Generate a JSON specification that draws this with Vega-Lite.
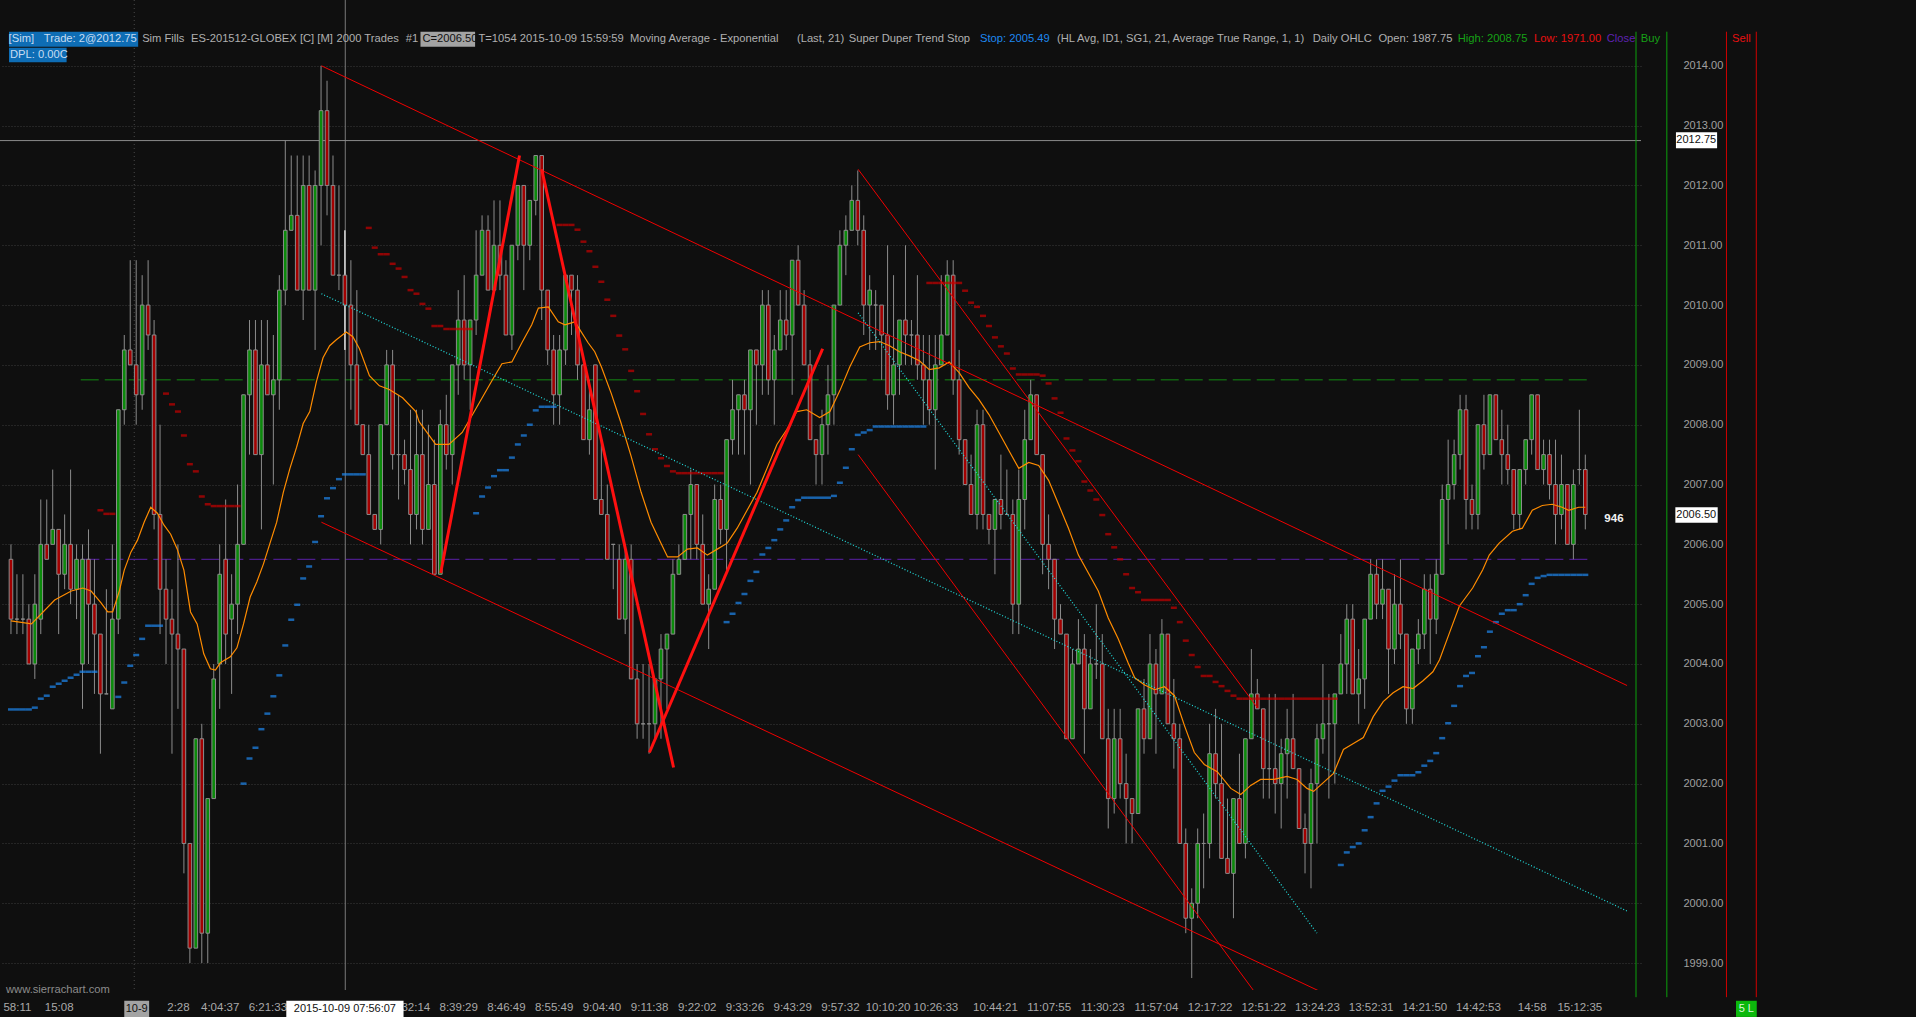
{
  "$schema": "https://vega.github.io/schema/vega-lite/v6.json",
  "width": 1641,
  "height": 990,
  "autosize": {"type": "none"},
  "padding": {"left": 0, "top": 0, "right": 275, "bottom": 27},
  "background": "#0f0f0f",
  "datasets": {
    "bars": [
      {"i":0,"o":2005.75,"h":2006.0,"l":2004.5,"c":2004.75},
      {"i":1,"o":2004.75,"h":2005.5,"l":2004.5,"c":2004.75},
      {"i":2,"o":2004.75,"h":2005.5,"l":2004.5,"c":2004.75},
      {"i":3,"o":2004.75,"h":2005.0,"l":2004.0,"c":2004.0},
      {"i":4,"o":2004.0,"h":2005.5,"l":2003.75,"c":2005.0},
      {"i":5,"o":2004.75,"h":2006.75,"l":2004.5,"c":2006.0},
      {"i":6,"o":2006.0,"h":2006.75,"l":2005.75,"c":2005.75},
      {"i":7,"o":2006.0,"h":2007.25,"l":2006.0,"c":2006.25},
      {"i":8,"o":2006.25,"h":2006.25,"l":2004.5,"c":2005.5},
      {"i":9,"o":2005.5,"h":2006.5,"l":2005.25,"c":2006.0},
      {"i":10,"o":2006.0,"h":2007.25,"l":2005.0,"c":2005.25},
      {"i":11,"o":2005.25,"h":2006.0,"l":2004.75,"c":2005.75},
      {"i":12,"o":2004.0,"h":2006.0,"l":2003.25,"c":2005.75},
      {"i":13,"o":2005.75,"h":2006.25,"l":2004.0,"c":2005.0},
      {"i":14,"o":2005.0,"h":2005.75,"l":2003.5,"c":2004.5},
      {"i":15,"o":2004.5,"h":2004.5,"l":2002.5,"c":2003.5},
      {"i":16,"o":2003.5,"h":2005.25,"l":2003.5,"c":2003.5},
      {"i":17,"o":2003.25,"h":2006.0,"l":2003.25,"c":2004.75},
      {"i":18,"o":2004.75,"h":2008.25,"l":2004.5,"c":2008.25},
      {"i":19,"o":2008.25,"h":2009.5,"l":2008.0,"c":2009.25},
      {"i":20,"o":2009.25,"h":2010.75,"l":2009.0,"c":2009.0},
      {"i":21,"o":2009.0,"h":2010.75,"l":2008.0,"c":2008.5},
      {"i":22,"o":2008.5,"h":2010.5,"l":2008.25,"c":2010.0},
      {"i":23,"o":2010.0,"h":2010.75,"l":2009.25,"c":2009.5},
      {"i":24,"o":2009.5,"h":2009.75,"l":2006.25,"c":2006.5},
      {"i":25,"o":2006.5,"h":2008.0,"l":2004.5,"c":2005.25},
      {"i":26,"o":2005.25,"h":2005.75,"l":2004.0,"c":2004.75},
      {"i":27,"o":2004.75,"h":2005.25,"l":2002.5,"c":2004.5},
      {"i":28,"o":2004.5,"h":2006.0,"l":2003.25,"c":2004.25},
      {"i":29,"o":2004.25,"h":2004.25,"l":2000.5,"c":2001.0},
      {"i":30,"o":2001.0,"h":2001.0,"l":1999.0,"c":1999.25},
      {"i":31,"o":1999.25,"h":2002.75,"l":1999.25,"c":2002.75},
      {"i":32,"o":2002.75,"h":2003.0,"l":1999.0,"c":1999.5},
      {"i":33,"o":1999.5,"h":2001.75,"l":1999.0,"c":2001.75},
      {"i":34,"o":2001.75,"h":2004.0,"l":2001.75,"c":2003.75},
      {"i":35,"o":2004.0,"h":2006.0,"l":2003.25,"c":2005.5},
      {"i":36,"o":2005.75,"h":2006.75,"l":2004.0,"c":2004.5},
      {"i":37,"o":2004.75,"h":2005.5,"l":2003.5,"c":2005.0},
      {"i":38,"o":2005.0,"h":2007.0,"l":2004.5,"c":2006.0},
      {"i":39,"o":2006.0,"h":2008.5,"l":2006.0,"c":2008.5},
      {"i":40,"o":2008.5,"h":2009.75,"l":2007.5,"c":2009.25},
      {"i":41,"o":2009.25,"h":2009.75,"l":2007.5,"c":2007.5},
      {"i":42,"o":2007.5,"h":2009.75,"l":2006.25,"c":2009.0},
      {"i":43,"o":2009.0,"h":2009.75,"l":2008.5,"c":2008.5},
      {"i":44,"o":2008.5,"h":2009.5,"l":2007.0,"c":2008.75},
      {"i":45,"o":2008.75,"h":2010.5,"l":2008.25,"c":2010.25},
      {"i":46,"o":2010.25,"h":2012.75,"l":2010.0,"c":2011.25},
      {"i":47,"o":2011.25,"h":2012.5,"l":2011.25,"c":2011.5},
      {"i":48,"o":2011.5,"h":2012.5,"l":2010.25,"c":2010.25},
      {"i":49,"o":2010.25,"h":2012.5,"l":2009.75,"c":2012.0},
      {"i":50,"o":2012.0,"h":2012.5,"l":2010.25,"c":2010.25},
      {"i":51,"o":2010.25,"h":2012.25,"l":2009.25,"c":2012.0},
      {"i":52,"o":2012.0,"h":2014.0,"l":2011.0,"c":2013.25},
      {"i":53,"o":2013.25,"h":2013.75,"l":2011.5,"c":2012.0},
      {"i":54,"o":2012.0,"h":2012.5,"l":2010.5,"c":2010.5},
      {"i":55,"o":2010.5,"h":2012.0,"l":2010.25,"c":2010.5},
      {"i":56,"o":2010.5,"h":2011.25,"l":2009.25,"c":2010.0},
      {"i":57,"o":2010.0,"h":2010.75,"l":2008.25,"c":2009.0},
      {"i":58,"o":2009.0,"h":2010.25,"l":2008.0,"c":2008.0},
      {"i":59,"o":2008.0,"h":2008.0,"l":2007.5,"c":2007.5},
      {"i":60,"o":2007.5,"h":2008.0,"l":2006.5,"c":2006.5},
      {"i":61,"o":2006.5,"h":2006.5,"l":2006.25,"c":2006.25},
      {"i":62,"o":2006.25,"h":2008.0,"l":2006.0,"c":2008.0},
      {"i":63,"o":2008.0,"h":2009.25,"l":2008.0,"c":2009.0},
      {"i":64,"o":2009.0,"h":2009.25,"l":2007.25,"c":2007.5},
      {"i":65,"o":2007.5,"h":2008.5,"l":2006.75,"c":2007.5},
      {"i":66,"o":2007.5,"h":2007.75,"l":2007.0,"c":2007.25},
      {"i":67,"o":2007.25,"h":2008.25,"l":2006.0,"c":2006.5},
      {"i":68,"o":2006.5,"h":2008.25,"l":2006.25,"c":2007.5},
      {"i":69,"o":2007.5,"h":2008.25,"l":2006.0,"c":2006.25},
      {"i":70,"o":2006.25,"h":2008.0,"l":2006.25,"c":2007.0},
      {"i":71,"o":2007.0,"h":2007.75,"l":2005.5,"c":2005.5},
      {"i":72,"o":2005.5,"h":2008.25,"l":2005.5,"c":2008.0},
      {"i":73,"o":2008.0,"h":2008.5,"l":2007.25,"c":2007.5},
      {"i":74,"o":2007.5,"h":2009.0,"l":2007.0,"c":2009.0},
      {"i":75,"o":2009.0,"h":2010.25,"l":2008.5,"c":2009.75},
      {"i":76,"o":2009.75,"h":2010.5,"l":2008.75,"c":2009.0},
      {"i":77,"o":2009.0,"h":2009.75,"l":2008.25,"c":2009.75},
      {"i":78,"o":2009.75,"h":2011.25,"l":2009.5,"c":2010.5},
      {"i":79,"o":2010.5,"h":2011.5,"l":2010.5,"c":2011.25},
      {"i":80,"o":2011.25,"h":2011.5,"l":2010.25,"c":2010.25},
      {"i":81,"o":2010.25,"h":2011.75,"l":2010.25,"c":2011.0},
      {"i":82,"o":2011.0,"h":2011.75,"l":2010.25,"c":2010.5},
      {"i":83,"o":2010.5,"h":2010.75,"l":2009.5,"c":2009.5},
      {"i":84,"o":2009.5,"h":2011.0,"l":2009.25,"c":2011.0},
      {"i":85,"o":2011.0,"h":2012.0,"l":2010.75,"c":2012.0},
      {"i":86,"o":2012.0,"h":2012.0,"l":2010.25,"c":2011.0},
      {"i":87,"o":2011.0,"h":2011.75,"l":2010.75,"c":2011.75},
      {"i":88,"o":2011.75,"h":2012.5,"l":2011.5,"c":2012.5},
      {"i":89,"o":2012.5,"h":2012.5,"l":2009.75,"c":2010.25},
      {"i":90,"o":2010.25,"h":2010.25,"l":2009.0,"c":2009.25},
      {"i":91,"o":2009.25,"h":2009.5,"l":2008.0,"c":2008.5},
      {"i":92,"o":2008.5,"h":2009.5,"l":2008.0,"c":2009.25},
      {"i":93,"o":2009.25,"h":2010.5,"l":2009.0,"c":2010.5},
      {"i":94,"o":2010.5,"h":2010.5,"l":2009.5,"c":2010.25},
      {"i":95,"o":2010.25,"h":2010.5,"l":2008.75,"c":2009.0},
      {"i":96,"o":2009.0,"h":2009.0,"l":2007.75,"c":2007.75},
      {"i":97,"o":2007.75,"h":2008.75,"l":2007.5,"c":2008.25},
      {"i":98,"o":2009.0,"h":2009.0,"l":2006.75,"c":2006.75},
      {"i":99,"o":2006.75,"h":2007.75,"l":2006.5,"c":2006.5},
      {"i":100,"o":2006.5,"h":2007.0,"l":2005.75,"c":2005.75},
      {"i":101,"o":2006.0,"h":2006.0,"l":2005.25,"c":2006.0},
      {"i":102,"o":2005.75,"h":2006.0,"l":2004.75,"c":2004.75},
      {"i":103,"o":2004.75,"h":2006.0,"l":2004.5,"c":2005.75},
      {"i":104,"o":2005.75,"h":2006.0,"l":2003.75,"c":2003.75},
      {"i":105,"o":2003.75,"h":2004.0,"l":2002.75,"c":2003.0},
      {"i":106,"o":2003.0,"h":2004.0,"l":2002.75,"c":2003.0},
      {"i":107,"o":2003.0,"h":2004.0,"l":2002.5,"c":2003.0},
      {"i":108,"o":2003.0,"h":2003.75,"l":2002.75,"c":2003.75},
      {"i":109,"o":2003.75,"h":2004.5,"l":2002.75,"c":2004.25},
      {"i":110,"o":2004.25,"h":2004.5,"l":2003.25,"c":2004.5},
      {"i":111,"o":2004.5,"h":2005.75,"l":2004.5,"c":2005.5},
      {"i":112,"o":2005.5,"h":2006.0,"l":2005.5,"c":2005.75},
      {"i":113,"o":2005.75,"h":2006.5,"l":2005.75,"c":2006.5},
      {"i":114,"o":2006.5,"h":2007.25,"l":2005.75,"c":2007.0},
      {"i":115,"o":2007.0,"h":2007.0,"l":2005.75,"c":2006.0},
      {"i":116,"o":2006.0,"h":2006.5,"l":2005.0,"c":2005.0},
      {"i":117,"o":2005.0,"h":2005.5,"l":2004.25,"c":2005.25},
      {"i":118,"o":2005.25,"h":2007.0,"l":2005.25,"c":2006.75},
      {"i":119,"o":2006.75,"h":2007.0,"l":2006.0,"c":2006.25},
      {"i":120,"o":2006.25,"h":2007.75,"l":2005.5,"c":2007.75},
      {"i":121,"o":2007.75,"h":2008.75,"l":2007.5,"c":2008.25},
      {"i":122,"o":2008.25,"h":2008.5,"l":2007.5,"c":2008.5},
      {"i":123,"o":2008.5,"h":2008.75,"l":2007.5,"c":2008.25},
      {"i":124,"o":2008.25,"h":2009.25,"l":2007.0,"c":2009.25},
      {"i":125,"o":2009.25,"h":2009.25,"l":2008.0,"c":2009.0},
      {"i":126,"o":2009.0,"h":2010.25,"l":2008.5,"c":2010.0},
      {"i":127,"o":2010.0,"h":2010.25,"l":2008.5,"c":2008.75},
      {"i":128,"o":2008.75,"h":2009.5,"l":2008.0,"c":2009.25},
      {"i":129,"o":2009.25,"h":2010.25,"l":2009.25,"c":2009.75},
      {"i":130,"o":2009.75,"h":2010.25,"l":2009.25,"c":2009.5},
      {"i":131,"o":2009.5,"h":2010.75,"l":2008.5,"c":2010.75},
      {"i":132,"o":2010.75,"h":2011.0,"l":2010.0,"c":2010.0},
      {"i":133,"o":2010.0,"h":2010.25,"l":2009.0,"c":2009.0},
      {"i":134,"o":2009.0,"h":2009.25,"l":2007.75,"c":2007.75},
      {"i":135,"o":2007.75,"h":2007.75,"l":2007.0,"c":2007.5},
      {"i":136,"o":2007.5,"h":2008.25,"l":2007.0,"c":2008.0},
      {"i":137,"o":2008.0,"h":2009.0,"l":2007.5,"c":2008.5},
      {"i":138,"o":2008.5,"h":2010.0,"l":2008.0,"c":2010.0},
      {"i":139,"o":2010.0,"h":2011.25,"l":2010.0,"c":2011.0},
      {"i":140,"o":2011.0,"h":2011.5,"l":2010.5,"c":2011.25},
      {"i":141,"o":2011.25,"h":2012.0,"l":2011.25,"c":2011.75},
      {"i":142,"o":2011.75,"h":2012.25,"l":2011.0,"c":2011.25},
      {"i":143,"o":2011.25,"h":2011.5,"l":2009.5,"c":2010.0},
      {"i":144,"o":2010.0,"h":2010.5,"l":2009.25,"c":2010.25},
      {"i":145,"o":2010.0,"h":2010.25,"l":2009.25,"c":2010.0},
      {"i":146,"o":2010.0,"h":2010.0,"l":2008.75,"c":2009.5},
      {"i":147,"o":2009.5,"h":2011.0,"l":2008.25,"c":2008.5},
      {"i":148,"o":2008.5,"h":2010.5,"l":2008.0,"c":2009.0},
      {"i":149,"o":2009.0,"h":2009.75,"l":2008.5,"c":2009.75},
      {"i":150,"o":2009.75,"h":2011.0,"l":2009.0,"c":2009.5},
      {"i":151,"o":2009.5,"h":2009.75,"l":2009.0,"c":2009.5},
      {"i":152,"o":2009.5,"h":2010.5,"l":2008.75,"c":2009.0},
      {"i":153,"o":2009.0,"h":2009.5,"l":2008.0,"c":2008.75},
      {"i":154,"o":2008.75,"h":2009.5,"l":2008.0,"c":2008.25},
      {"i":155,"o":2008.25,"h":2009.5,"l":2007.25,"c":2009.0},
      {"i":156,"o":2009.0,"h":2010.5,"l":2009.0,"c":2009.5},
      {"i":157,"o":2009.5,"h":2010.75,"l":2009.5,"c":2010.5},
      {"i":158,"o":2010.5,"h":2010.75,"l":2008.5,"c":2008.75},
      {"i":159,"o":2008.75,"h":2009.25,"l":2007.5,"c":2007.75},
      {"i":160,"o":2007.75,"h":2007.75,"l":2007.0,"c":2007.0},
      {"i":161,"o":2007.0,"h":2007.5,"l":2006.5,"c":2006.5},
      {"i":162,"o":2006.5,"h":2008.25,"l":2006.25,"c":2008.0},
      {"i":163,"o":2008.0,"h":2008.25,"l":2006.25,"c":2006.5},
      {"i":164,"o":2006.5,"h":2006.5,"l":2006.0,"c":2006.25},
      {"i":165,"o":2006.25,"h":2006.75,"l":2005.5,"c":2006.75},
      {"i":166,"o":2006.75,"h":2007.5,"l":2006.25,"c":2006.5},
      {"i":167,"o":2006.5,"h":2007.25,"l":2006.5,"c":2006.5},
      {"i":168,"o":2006.5,"h":2006.75,"l":2004.5,"c":2005.0},
      {"i":169,"o":2005.0,"h":2007.25,"l":2004.5,"c":2006.75},
      {"i":170,"o":2006.75,"h":2008.25,"l":2006.25,"c":2007.75},
      {"i":171,"o":2007.75,"h":2008.75,"l":2007.75,"c":2008.5},
      {"i":172,"o":2008.5,"h":2008.5,"l":2007.5,"c":2007.5},
      {"i":173,"o":2007.5,"h":2007.5,"l":2005.5,"c":2006.0},
      {"i":174,"o":2006.0,"h":2006.5,"l":2005.25,"c":2005.75},
      {"i":175,"o":2005.75,"h":2005.75,"l":2004.25,"c":2004.75},
      {"i":176,"o":2004.75,"h":2005.0,"l":2004.5,"c":2004.5},
      {"i":177,"o":2004.5,"h":2004.5,"l":2002.75,"c":2002.75},
      {"i":178,"o":2002.75,"h":2004.25,"l":2002.75,"c":2004.0},
      {"i":179,"o":2004.0,"h":2004.75,"l":2004.0,"c":2004.25},
      {"i":180,"o":2004.25,"h":2004.5,"l":2002.5,"c":2003.25},
      {"i":181,"o":2003.25,"h":2004.25,"l":2003.25,"c":2004.0},
      {"i":182,"o":2004.0,"h":2005.0,"l":2003.75,"c":2004.0},
      {"i":183,"o":2004.0,"h":2004.5,"l":2002.75,"c":2002.75},
      {"i":184,"o":2002.75,"h":2003.25,"l":2001.25,"c":2001.75},
      {"i":185,"o":2001.75,"h":2003.25,"l":2001.5,"c":2002.75},
      {"i":186,"o":2002.75,"h":2003.25,"l":2001.75,"c":2002.0},
      {"i":187,"o":2002.0,"h":2002.5,"l":2001.0,"c":2001.75},
      {"i":188,"o":2001.75,"h":2001.75,"l":2001.0,"c":2001.5},
      {"i":189,"o":2001.5,"h":2003.25,"l":2001.5,"c":2003.25},
      {"i":190,"o":2003.25,"h":2003.75,"l":2002.5,"c":2002.75},
      {"i":191,"o":2002.75,"h":2004.5,"l":2002.75,"c":2004.0},
      {"i":192,"o":2004.0,"h":2004.25,"l":2002.5,"c":2003.5},
      {"i":193,"o":2003.5,"h":2004.75,"l":2003.5,"c":2004.5},
      {"i":194,"o":2004.5,"h":2004.5,"l":2003.0,"c":2003.0},
      {"i":195,"o":2003.0,"h":2003.75,"l":2002.25,"c":2002.75},
      {"i":196,"o":2002.75,"h":2003.0,"l":2001.0,"c":2001.0},
      {"i":197,"o":2001.0,"h":2001.25,"l":1999.5,"c":1999.75},
      {"i":198,"o":1999.75,"h":2000.25,"l":1998.75,"c":2000.0},
      {"i":199,"o":2000.0,"h":2001.25,"l":1999.75,"c":2001.0},
      {"i":200,"o":2001.0,"h":2001.5,"l":2000.25,"c":2001.0},
      {"i":201,"o":2001.0,"h":2003.0,"l":2000.75,"c":2002.5},
      {"i":202,"o":2002.5,"h":2003.25,"l":2001.75,"c":2002.0},
      {"i":203,"o":2002.0,"h":2003.0,"l":2000.75,"c":2000.75},
      {"i":204,"o":2000.75,"h":2001.75,"l":2000.5,"c":2000.5},
      {"i":205,"o":2000.5,"h":2001.75,"l":1999.75,"c":2001.75},
      {"i":206,"o":2001.75,"h":2002.5,"l":2001.0,"c":2001.0},
      {"i":207,"o":2001.0,"h":2002.75,"l":2000.75,"c":2002.75},
      {"i":208,"o":2002.75,"h":2004.25,"l":2002.75,"c":2003.5},
      {"i":209,"o":2003.5,"h":2003.75,"l":2003.25,"c":2003.25},
      {"i":210,"o":2003.25,"h":2003.25,"l":2001.75,"c":2002.25},
      {"i":211,"o":2002.25,"h":2003.5,"l":2001.75,"c":2002.25},
      {"i":212,"o":2002.25,"h":2003.5,"l":2001.5,"c":2002.0},
      {"i":213,"o":2002.0,"h":2002.75,"l":2001.25,"c":2002.5},
      {"i":214,"o":2002.5,"h":2003.25,"l":2001.75,"c":2002.75},
      {"i":215,"o":2002.75,"h":2003.5,"l":2002.25,"c":2002.25},
      {"i":216,"o":2002.25,"h":2002.25,"l":2001.25,"c":2001.25},
      {"i":217,"o":2001.25,"h":2001.5,"l":2000.5,"c":2001.0},
      {"i":218,"o":2001.0,"h":2002.25,"l":2000.25,"c":2002.0},
      {"i":219,"o":2002.0,"h":2003.0,"l":2001.0,"c":2002.75},
      {"i":220,"o":2002.75,"h":2004.0,"l":2002.5,"c":2003.0},
      {"i":221,"o":2003.0,"h":2003.5,"l":2001.75,"c":2003.0},
      {"i":222,"o":2003.0,"h":2003.5,"l":2002.0,"c":2003.5},
      {"i":223,"o":2003.5,"h":2004.5,"l":2003.5,"c":2004.0},
      {"i":224,"o":2004.0,"h":2005.0,"l":2003.5,"c":2004.75},
      {"i":225,"o":2004.75,"h":2005.0,"l":2003.5,"c":2003.5},
      {"i":226,"o":2003.5,"h":2004.25,"l":2003.0,"c":2003.75},
      {"i":227,"o":2003.75,"h":2004.75,"l":2003.25,"c":2004.75},
      {"i":228,"o":2004.75,"h":2005.75,"l":2004.75,"c":2005.5},
      {"i":229,"o":2005.5,"h":2005.75,"l":2004.75,"c":2005.0},
      {"i":230,"o":2005.0,"h":2005.75,"l":2004.75,"c":2005.25},
      {"i":231,"o":2005.25,"h":2005.25,"l":2003.5,"c":2004.25},
      {"i":232,"o":2004.25,"h":2005.5,"l":2004.0,"c":2005.0},
      {"i":233,"o":2005.0,"h":2005.75,"l":2004.25,"c":2004.5},
      {"i":234,"o":2004.5,"h":2004.5,"l":2003.0,"c":2003.25},
      {"i":235,"o":2003.25,"h":2004.25,"l":2003.0,"c":2004.25},
      {"i":236,"o":2004.25,"h":2004.75,"l":2004.0,"c":2004.5},
      {"i":237,"o":2004.5,"h":2005.5,"l":2004.25,"c":2005.25},
      {"i":238,"o":2005.25,"h":2005.5,"l":2004.0,"c":2004.75},
      {"i":239,"o":2004.75,"h":2005.75,"l":2004.5,"c":2005.5},
      {"i":240,"o":2005.5,"h":2007.0,"l":2005.5,"c":2006.75},
      {"i":241,"o":2006.75,"h":2007.75,"l":2006.0,"c":2007.0},
      {"i":242,"o":2007.0,"h":2007.75,"l":2006.75,"c":2007.5},
      {"i":243,"o":2007.5,"h":2008.5,"l":2007.25,"c":2008.25},
      {"i":244,"o":2008.25,"h":2008.5,"l":2006.25,"c":2006.75},
      {"i":245,"o":2006.75,"h":2007.0,"l":2006.25,"c":2006.5},
      {"i":246,"o":2006.5,"h":2008.0,"l":2006.25,"c":2008.0},
      {"i":247,"o":2008.0,"h":2008.5,"l":2007.25,"c":2007.5},
      {"i":248,"o":2007.5,"h":2008.5,"l":2007.5,"c":2008.5},
      {"i":249,"o":2008.5,"h":2008.5,"l":2007.75,"c":2007.75},
      {"i":250,"o":2007.75,"h":2008.25,"l":2007.0,"c":2007.5},
      {"i":251,"o":2007.5,"h":2008.0,"l":2007.0,"c":2007.25},
      {"i":252,"o":2007.25,"h":2007.25,"l":2006.25,"c":2006.5},
      {"i":253,"o":2006.5,"h":2007.25,"l":2006.25,"c":2007.25},
      {"i":254,"o":2007.25,"h":2007.75,"l":2007.0,"c":2007.75},
      {"i":255,"o":2007.75,"h":2008.5,"l":2007.5,"c":2008.5},
      {"i":256,"o":2008.5,"h":2008.5,"l":2007.25,"c":2007.25},
      {"i":257,"o":2007.25,"h":2007.75,"l":2007.0,"c":2007.5},
      {"i":258,"o":2007.5,"h":2007.75,"l":2006.75,"c":2007.0},
      {"i":259,"o":2007.0,"h":2007.75,"l":2006.0,"c":2006.5},
      {"i":260,"o":2006.5,"h":2007.5,"l":2006.25,"c":2007.0},
      {"i":261,"o":2007.0,"h":2007.0,"l":2006.0,"c":2006.0},
      {"i":262,"o":2006.0,"h":2007.25,"l":2005.75,"c":2007.0},
      {"i":263,"o":2007.25,"h":2008.25,"l":2007.0,"c":2007.25},
      {"i":264,"o":2007.25,"h":2007.5,"l":2006.25,"c":2006.5}
    ],
    "ema": [
      {"i":0,"p":2004.72},{"i":3.44,"p":2004.67},{"i":7.33,"p":2005.07},{"i":10.11,"p":2005.22},
      {"i":12.06,"p":2005.27},{"i":13.44,"p":2005.22},{"i":15.11,"p":2005.02},{"i":16.22,"p":2004.87},
      {"i":17.06,"p":2004.87},{"i":18.17,"p":2005.22},{"i":19,"p":2005.57},{"i":20.11,"p":2005.87},
      {"i":21.22,"p":2006.07},{"i":22.33,"p":2006.37},{"i":23.44,"p":2006.62},{"i":24.56,"p":2006.52},
      {"i":25.67,"p":2006.32},{"i":26.78,"p":2006.17},{"i":27.89,"p":2005.92},{"i":29,"p":2005.57},
      {"i":30.11,"p":2004.87},{"i":31.22,"p":2004.67},{"i":32.33,"p":2004.17},{"i":33.44,"p":2003.92},
      {"i":34.28,"p":2003.9},{"i":35.11,"p":2004.02},{"i":36.78,"p":2004.12},{"i":37.89,"p":2004.27},
      {"i":39,"p":2004.67},{"i":40.11,"p":2005.12},{"i":41.22,"p":2005.37},{"i":42.33,"p":2005.67},
      {"i":43.44,"p":2006.02},{"i":44.56,"p":2006.37},{"i":45.67,"p":2006.87},{"i":46.78,"p":2007.27},
      {"i":47.89,"p":2007.62},{"i":49,"p":2008.02},{"i":50.11,"p":2008.22},{"i":51.22,"p":2008.72},
      {"i":52.33,"p":2009.12},{"i":53.44,"p":2009.32},{"i":54.56,"p":2009.42},{"i":56.22,"p":2009.55},
      {"i":57.33,"p":2009.47},{"i":58.44,"p":2009.27},{"i":60.11,"p":2008.82},{"i":61.78,"p":2008.65},
      {"i":63.44,"p":2008.59},{"i":65.67,"p":2008.45},{"i":67.89,"p":2008.22},{"i":68.44,"p":2008.05},
      {"i":71.22,"p":2007.67},{"i":73.44,"p":2007.67},{"i":75.67,"p":2007.87},{"i":78.44,"p":2008.35},
      {"i":80.67,"p":2008.74},{"i":82.33,"p":2009.02},{"i":84,"p":2009.05},{"i":85.67,"p":2009.37},
      {"i":87.33,"p":2009.67},{"i":88.44,"p":2009.95},{"i":90.11,"p":2009.97},{"i":91.78,"p":2009.72},
      {"i":92.89,"p":2009.67},{"i":94.56,"p":2009.72},{"i":96.78,"p":2009.37},{"i":97.89,"p":2009.22},
      {"i":99,"p":2008.97},{"i":100.67,"p":2008.52},{"i":102.33,"p":2008.02},{"i":104,"p":2007.47},
      {"i":105.67,"p":2006.87},{"i":107.33,"p":2006.37},{"i":109,"p":2006.02},{"i":110.11,"p":2005.79},
      {"i":111.78,"p":2005.79},{"i":113.44,"p":2005.92},{"i":115.11,"p":2005.94},{"i":116.78,"p":2005.82},
      {"i":118.44,"p":2005.92},{"i":120.11,"p":2006.02},{"i":121.78,"p":2006.27},{"i":123.44,"p":2006.57},
      {"i":125.11,"p":2006.87},{"i":126.78,"p":2007.27},{"i":128.44,"p":2007.67},{"i":130.11,"p":2007.92},
      {"i":131.78,"p":2008.22},{"i":133.44,"p":2008.25},{"i":135.61,"p":2008.12},{"i":137.33,"p":2008.22},
      {"i":139,"p":2008.57},{"i":140.67,"p":2008.97},{"i":142.33,"p":2009.3},{"i":144,"p":2009.37},
      {"i":145.67,"p":2009.39},{"i":147.33,"p":2009.32},{"i":149,"p":2009.22},{"i":150.67,"p":2009.15},
      {"i":152.33,"p":2009.07},{"i":154,"p":2008.92},{"i":155.67,"p":2008.95},{"i":157.33,"p":2009.05},
      {"i":159,"p":2008.87},{"i":160.67,"p":2008.62},{"i":162.33,"p":2008.42},{"i":164,"p":2008.17},
      {"i":165.67,"p":2007.87},{"i":167.33,"p":2007.57},{"i":169,"p":2007.27},{"i":170.67,"p":2007.37},
      {"i":172.33,"p":2007.32},{"i":174,"p":2007.07},{"i":175.67,"p":2006.67},{"i":177.33,"p":2006.27},
      {"i":179,"p":2005.82},{"i":180.67,"p":2005.52},{"i":182.33,"p":2005.22},{"i":184,"p":2004.77},
      {"i":185.67,"p":2004.42},{"i":187.33,"p":2004.02},{"i":188.44,"p":2003.77},{"i":190.11,"p":2003.65},
      {"i":191.78,"p":2003.57},{"i":193.44,"p":2003.62},{"i":195.11,"p":2003.47},{"i":196.78,"p":2002.97},
      {"i":198.44,"p":2002.52},{"i":200.11,"p":2002.32},{"i":202.28,"p":2002.2},{"i":204.56,"p":2001.92},
      {"i":206.22,"p":2001.82},{"i":207.89,"p":2001.97},{"i":209.56,"p":2002.07},{"i":211.78,"p":2002.07},
      {"i":214,"p":2002.12},{"i":215.67,"p":2002.07},{"i":217.33,"p":2001.92},{"i":218.44,"p":2001.87},
      {"i":220.11,"p":2002.02},{"i":221.78,"p":2002.17},{"i":223.44,"p":2002.57},{"i":225.11,"p":2002.67},
      {"i":226.78,"p":2002.77},{"i":228.44,"p":2003.12},{"i":230.11,"p":2003.37},{"i":231.78,"p":2003.52},
      {"i":233.44,"p":2003.62},{"i":235.11,"p":2003.59},{"i":236.78,"p":2003.72},{"i":238.44,"p":2003.87},
      {"i":239.56,"p":2004.07},{"i":241.22,"p":2004.52},{"i":242.89,"p":2004.97},{"i":244,"p":2005.12},
      {"i":245.11,"p":2005.27},{"i":246.78,"p":2005.57},{"i":247.89,"p":2005.82},{"i":249.56,"p":2006.02},
      {"i":251.78,"p":2006.22},{"i":253.44,"p":2006.27},{"i":255.11,"p":2006.57},{"i":256.78,"p":2006.65},
      {"i":258.44,"p":2006.67},{"i":260.11,"p":2006.62},{"i":261.22,"p":2006.57},{"i":262.89,"p":2006.62},
      {"i":264,"p":2006.62}
    ],
    "stops": [
      {"i":0,"p":2003.24,"d":"u"},{"i":1,"p":2003.24,"d":"u"},{"i":2,"p":2003.24,"d":"u"},{"i":3,"p":2003.24,"d":"u"},
      {"i":4,"p":2003.27,"d":"u"},{"i":5,"p":2003.42,"d":"u"},{"i":6,"p":2003.47,"d":"u"},{"i":7,"p":2003.62,"d":"u"},
      {"i":8,"p":2003.67,"d":"u"},{"i":9,"p":2003.72,"d":"u"},{"i":10,"p":2003.77,"d":"u"},{"i":11,"p":2003.82,"d":"u"},
      {"i":12,"p":2003.87,"d":"u"},{"i":13,"p":2003.87,"d":"u"},{"i":14,"p":2003.87,"d":"u"},
      {"i":15,"p":2006.57,"d":"d"},{"i":16,"p":2006.51,"d":"d"},{"i":17,"p":2006.51,"d":"d"},
      {"i":18,"p":2003.45,"d":"u"},{"i":19,"p":2003.69,"d":"u"},{"i":20,"p":2003.97,"d":"u"},{"i":21,"p":2004.15,"d":"u"},
      {"i":22,"p":2004.42,"d":"u"},{"i":23,"p":2004.64,"d":"u"},{"i":24,"p":2004.64,"d":"u"},{"i":25,"p":2004.64,"d":"u"},
      {"i":26,"p":2008.52,"d":"d"},{"i":27,"p":2008.34,"d":"d"},{"i":28,"p":2008.22,"d":"d"},{"i":29,"p":2007.82,"d":"d"},
      {"i":30,"p":2007.34,"d":"d"},{"i":31,"p":2007.22,"d":"d"},{"i":32,"p":2006.8,"d":"d"},{"i":33,"p":2006.67,"d":"d"},
      {"i":34,"p":2006.64,"d":"d"},{"i":35,"p":2006.64,"d":"d"},{"i":36,"p":2006.64,"d":"d"},{"i":37,"p":2006.64,"d":"d"},
      {"i":38,"p":2006.64,"d":"d"},
      {"i":39,"p":2002.0,"d":"u"},{"i":40,"p":2002.42,"d":"u"},{"i":41,"p":2002.6,"d":"u"},{"i":42,"p":2002.91,"d":"u"},
      {"i":43,"p":2003.17,"d":"u"},{"i":44,"p":2003.46,"d":"u"},{"i":45,"p":2003.81,"d":"u"},{"i":46,"p":2004.31,"d":"u"},
      {"i":47,"p":2004.74,"d":"u"},{"i":48,"p":2004.99,"d":"u"},{"i":49,"p":2005.43,"d":"u"},{"i":50,"p":2005.63,"d":"u"},
      {"i":51,"p":2006.04,"d":"u"},{"i":52,"p":2006.47,"d":"u"},{"i":53,"p":2006.77,"d":"u"},{"i":54,"p":2006.94,"d":"u"},
      {"i":55,"p":2007.09,"d":"u"},{"i":56,"p":2007.17,"d":"u"},{"i":57,"p":2007.17,"d":"u"},{"i":58,"p":2007.17,"d":"u"},
      {"i":59,"p":2007.17,"d":"u"},
      {"i":60,"p":2011.29,"d":"d"},{"i":61,"p":2010.96,"d":"d"},{"i":62,"p":2010.85,"d":"d"},{"i":63,"p":2010.85,"d":"d"},
      {"i":64,"p":2010.69,"d":"d"},{"i":65,"p":2010.61,"d":"d"},{"i":66,"p":2010.47,"d":"d"},{"i":67,"p":2010.25,"d":"d"},
      {"i":68,"p":2010.19,"d":"d"},{"i":69,"p":2010.02,"d":"d"},{"i":70,"p":2009.94,"d":"d"},{"i":71,"p":2009.65,"d":"d"},
      {"i":72,"p":2009.65,"d":"d"},{"i":73,"p":2009.6,"d":"d"},{"i":74,"p":2009.6,"d":"d"},{"i":75,"p":2009.6,"d":"d"},
      {"i":76,"p":2009.6,"d":"d"},{"i":77,"p":2009.6,"d":"d"},
      {"i":78,"p":2006.52,"d":"u"},{"i":79,"p":2006.8,"d":"u"},{"i":80,"p":2006.95,"d":"u"},{"i":81,"p":2007.14,"d":"u"},
      {"i":82,"p":2007.24,"d":"u"},{"i":83,"p":2007.24,"d":"u"},{"i":84,"p":2007.45,"d":"u"},{"i":85,"p":2007.67,"d":"u"},
      {"i":86,"p":2007.82,"d":"u"},{"i":87,"p":2008.0,"d":"u"},{"i":88,"p":2008.24,"d":"u"},{"i":89,"p":2008.3,"d":"u"},
      {"i":90,"p":2008.3,"d":"u"},{"i":91,"p":2008.3,"d":"u"},
      {"i":92,"p":2011.34,"d":"d"},{"i":93,"p":2011.34,"d":"d"},{"i":94,"p":2011.34,"d":"d"},{"i":95,"p":2011.26,"d":"d"},
      {"i":96,"p":2011.06,"d":"d"},{"i":97,"p":2010.9,"d":"d"},{"i":98,"p":2010.64,"d":"d"},{"i":99,"p":2010.39,"d":"d"},
      {"i":100,"p":2010.09,"d":"d"},{"i":101,"p":2009.82,"d":"d"},{"i":102,"p":2009.49,"d":"d"},{"i":103,"p":2009.26,"d":"d"},
      {"i":104,"p":2008.9,"d":"d"},{"i":105,"p":2008.56,"d":"d"},{"i":106,"p":2008.18,"d":"d"},{"i":107,"p":2007.84,"d":"d"},
      {"i":108,"p":2007.59,"d":"d"},{"i":109,"p":2007.44,"d":"d"},{"i":110,"p":2007.31,"d":"d"},{"i":111,"p":2007.22,"d":"d"},
      {"i":112,"p":2007.19,"d":"d"},{"i":113,"p":2007.19,"d":"d"},{"i":114,"p":2007.19,"d":"d"},{"i":115,"p":2007.19,"d":"d"},
      {"i":116,"p":2007.19,"d":"d"},{"i":117,"p":2007.19,"d":"d"},{"i":118,"p":2007.19,"d":"d"},{"i":119,"p":2007.19,"d":"d"},
      {"i":120,"p":2004.7,"d":"u"},{"i":121,"p":2004.84,"d":"u"},{"i":122,"p":2005.02,"d":"u"},{"i":123,"p":2005.17,"d":"u"},
      {"i":124,"p":2005.39,"d":"u"},{"i":125,"p":2005.54,"d":"u"},{"i":126,"p":2005.83,"d":"u"},{"i":127,"p":2005.94,"d":"u"},
      {"i":128,"p":2006.07,"d":"u"},{"i":129,"p":2006.25,"d":"u"},{"i":130,"p":2006.4,"d":"u"},{"i":131,"p":2006.62,"d":"u"},
      {"i":132,"p":2006.74,"d":"u"},{"i":133,"p":2006.78,"d":"u"},{"i":134,"p":2006.78,"d":"u"},{"i":135,"p":2006.78,"d":"u"},
      {"i":136,"p":2006.78,"d":"u"},{"i":137,"p":2006.78,"d":"u"},{"i":138,"p":2006.81,"d":"u"},{"i":139,"p":2007.03,"d":"u"},
      {"i":140,"p":2007.28,"d":"u"},{"i":141,"p":2007.59,"d":"u"},{"i":142,"p":2007.83,"d":"u"},{"i":143,"p":2007.87,"d":"u"},
      {"i":144,"p":2007.91,"d":"u"},{"i":145,"p":2007.97,"d":"u"},{"i":146,"p":2007.97,"d":"u"},{"i":147,"p":2007.97,"d":"u"},
      {"i":148,"p":2007.97,"d":"u"},{"i":149,"p":2007.97,"d":"u"},{"i":150,"p":2007.97,"d":"u"},{"i":151,"p":2007.97,"d":"u"},
      {"i":152,"p":2007.97,"d":"u"},{"i":153,"p":2007.97,"d":"u"},
      {"i":154,"p":2010.37,"d":"d"},{"i":155,"p":2010.37,"d":"d"},{"i":156,"p":2010.37,"d":"d"},{"i":157,"p":2010.37,"d":"d"},
      {"i":158,"p":2010.37,"d":"d"},{"i":159,"p":2010.37,"d":"d"},{"i":160,"p":2010.24,"d":"d"},{"i":161,"p":2010.04,"d":"d"},
      {"i":162,"p":2009.97,"d":"d"},{"i":163,"p":2009.82,"d":"d"},{"i":164,"p":2009.65,"d":"d"},{"i":165,"p":2009.46,"d":"d"},
      {"i":166,"p":2009.31,"d":"d"},{"i":167,"p":2009.19,"d":"d"},{"i":168,"p":2008.94,"d":"d"},{"i":169,"p":2008.84,"d":"d"},
      {"i":170,"p":2008.84,"d":"d"},{"i":171,"p":2008.84,"d":"d"},{"i":172,"p":2008.84,"d":"d"},{"i":173,"p":2008.82,"d":"d"},
      {"i":174,"p":2008.69,"d":"d"},{"i":175,"p":2008.44,"d":"d"},{"i":176,"p":2008.2,"d":"d"},{"i":177,"p":2007.77,"d":"d"},
      {"i":178,"p":2007.57,"d":"d"},{"i":179,"p":2007.39,"d":"d"},{"i":180,"p":2007.05,"d":"d"},{"i":181,"p":2006.9,"d":"d"},
      {"i":182,"p":2006.75,"d":"d"},{"i":183,"p":2006.49,"d":"d"},{"i":184,"p":2006.17,"d":"d"},{"i":185,"p":2005.95,"d":"d"},
      {"i":186,"p":2005.75,"d":"d"},{"i":187,"p":2005.5,"d":"d"},{"i":188,"p":2005.27,"d":"d"},{"i":189,"p":2005.2,"d":"d"},
      {"i":190,"p":2005.07,"d":"d"},{"i":191,"p":2005.07,"d":"d"},{"i":192,"p":2005.07,"d":"d"},{"i":193,"p":2005.07,"d":"d"},
      {"i":194,"p":2005.07,"d":"d"},{"i":195,"p":2004.94,"d":"d"},{"i":196,"p":2004.7,"d":"d"},{"i":197,"p":2004.39,"d":"d"},
      {"i":198,"p":2004.15,"d":"d"},{"i":199,"p":2003.95,"d":"d"},{"i":200,"p":2003.8,"d":"d"},{"i":201,"p":2003.8,"d":"d"},
      {"i":202,"p":2003.7,"d":"d"},{"i":203,"p":2003.63,"d":"d"},{"i":204,"p":2003.55,"d":"d"},{"i":205,"p":2003.47,"d":"d"},
      {"i":206,"p":2003.42,"d":"d"},{"i":207,"p":2003.42,"d":"d"},{"i":208,"p":2003.42,"d":"d"},{"i":209,"p":2003.42,"d":"d"},
      {"i":210,"p":2003.42,"d":"d"},{"i":211,"p":2003.42,"d":"d"},{"i":212,"p":2003.42,"d":"d"},{"i":213,"p":2003.42,"d":"d"},
      {"i":214,"p":2003.42,"d":"d"},{"i":215,"p":2003.42,"d":"d"},{"i":216,"p":2003.42,"d":"d"},{"i":217,"p":2003.42,"d":"d"},
      {"i":218,"p":2003.42,"d":"d"},{"i":219,"p":2003.42,"d":"d"},{"i":220,"p":2003.42,"d":"d"},{"i":221,"p":2003.42,"d":"d"},
      {"i":222,"p":2003.42,"d":"d"},
      {"i":223,"p":2000.64,"d":"u"},{"i":224,"p":2000.85,"d":"u"},{"i":225,"p":2000.94,"d":"u"},{"i":226,"p":2001.0,"d":"u"},
      {"i":227,"p":2001.22,"d":"u"},{"i":228,"p":2001.44,"d":"u"},{"i":229,"p":2001.67,"d":"u"},{"i":230,"p":2001.88,"d":"u"},
      {"i":231,"p":2001.95,"d":"u"},{"i":232,"p":2002.05,"d":"u"},{"i":233,"p":2002.14,"d":"u"},{"i":234,"p":2002.14,"d":"u"},
      {"i":235,"p":2002.14,"d":"u"},{"i":236,"p":2002.19,"d":"u"},{"i":237,"p":2002.3,"d":"u"},{"i":238,"p":2002.38,"d":"u"},
      {"i":239,"p":2002.51,"d":"u"},{"i":240,"p":2002.76,"d":"u"},{"i":241,"p":2003.01,"d":"u"},{"i":242,"p":2003.3,"d":"u"},
      {"i":243,"p":2003.63,"d":"u"},{"i":244,"p":2003.8,"d":"u"},{"i":245,"p":2003.85,"d":"u"},{"i":246,"p":2004.13,"d":"u"},
      {"i":247,"p":2004.28,"d":"u"},{"i":248,"p":2004.54,"d":"u"},{"i":249,"p":2004.7,"d":"u"},{"i":250,"p":2004.84,"d":"u"},
      {"i":251,"p":2004.9,"d":"u"},{"i":252,"p":2004.9,"d":"u"},{"i":253,"p":2005.0,"d":"u"},{"i":254,"p":2005.15,"d":"u"},
      {"i":255,"p":2005.34,"d":"u"},{"i":256,"p":2005.44,"d":"u"},{"i":257,"p":2005.47,"d":"u"},{"i":258,"p":2005.49,"d":"u"},
      {"i":259,"p":2005.49,"d":"u"},{"i":260,"p":2005.49,"d":"u"},{"i":261,"p":2005.49,"d":"u"},{"i":262,"p":2005.49,"d":"u"},
      {"i":263,"p":2005.49,"d":"u"},{"i":264,"p":2005.49,"d":"u"}
    ],
    "drawn": [
      {"id":"L1","k":"ch","i":52.06,"p":2014.0},{"id":"L1","k":"ch","i":271,"p":2003.64},
      {"id":"L2","k":"ch","i":52.06,"p":2006.37},{"id":"L2","k":"ch","i":222,"p":1998.41},
      {"id":"A","k":"ch","i":142.06,"p":2012.27},{"id":"A","k":"ch","i":209,"p":2003.27},
      {"id":"B","k":"ch","i":142.06,"p":2007.5},{"id":"B","k":"ch","i":212,"p":1998.05},
      {"id":"C1","k":"cy","i":52.06,"p":2010.19},{"id":"C1","k":"cy","i":271,"p":1999.87},
      {"id":"C2","k":"cy","i":142.06,"p":2009.87},{"id":"C2","k":"cy","i":219,"p":1999.5},
      {"id":"Z1","k":"zig","i":72.06,"p":2005.52},{"id":"Z1","k":"zig","i":85.28,"p":2012.5},
      {"id":"Z2","k":"zig","i":89,"p":2012.27},{"id":"Z2","k":"zig","i":111.11,"p":2002.27},
      {"id":"Z3","k":"zig","i":107.06,"p":2002.52},{"id":"Z3","k":"zig","i":136.11,"p":2009.27}
    ],
    "levels": [
      {"i":11.7,"i2":264.5,"p":2008.75,"k":"High"},
      {"i":11.8,"i2":264.5,"p":2005.75,"k":"Close"}
    ],
    "edges": [
      {"i":272.5,"k":"Buy"},{"i":277.67,"k":"Buy"},{"i":287.67,"k":"Sell"},{"i":292.67,"k":"Sell"}
    ],
    "boxes": [
      {"i1":-0.33,"i2":21.33,"p1":2014.57,"p2":2014.32,"k":"sim"},
      {"i1":-0.33,"i2":9.33,"p1":2014.3,"p2":2014.06,"k":"sim"},
      {"i1":68.67,"i2":77.83,"p1":2014.57,"p2":2014.32,"k":"grey"},
      {"i1":279.2,"i2":286.1,"p1":2012.89,"p2":2012.62,"k":"white"},
      {"i1":279.1,"i2":286.2,"p1":2006.62,"p2":2006.36,"k":"white"},
      {"i1":19.0,"i2":23.17,"p1":1998.37,"p2":1998.1,"k":"grey"},
      {"i1":46.17,"i2":65.83,"p1":1998.37,"p2":1998.1,"k":"white"},
      {"i1":289.27,"i2":292.75,"p1":1998.37,"p2":1998.1,"k":"green"}
    ],
    "header": [
      {"i":-0.4,"p":2014.44,"t":"[Sim]","k":"sim"},
      {"i":5.5,"p":2014.44,"t":"Trade: 2@2012.75","k":"sim"},
      {"i":22.0,"p":2014.44,"t":"Sim Fills","k":"txt"},
      {"i":30.2,"p":2014.44,"t":"ES-201512-GLOBEX [C] [M]","k":"txt"},
      {"i":54.6,"p":2014.44,"t":"2000 Trades","k":"txt"},
      {"i":66.2,"p":2014.44,"t":"#1","k":"txt"},
      {"i":69,"p":2014.44,"t":"C=2006.50","k":"dark"},
      {"i":78.4,"p":2014.44,"t":"T=1054 2015-10-09 15:59:59","k":"txt"},
      {"i":103.8,"p":2014.44,"t":"Moving Average - Exponential","k":"txt"},
      {"i":131.8,"p":2014.44,"t":"(Last, 21)","k":"txt"},
      {"i":140.5,"p":2014.44,"t":"Super Duper Trend Stop","k":"txt"},
      {"i":162.5,"p":2014.44,"t":"Stop: 2005.49","k":"stop"},
      {"i":175.4,"p":2014.44,"t":"(HL Avg, ID1, SG1, 21, Average True Range, 1, 1)","k":"txt"},
      {"i":218.3,"p":2014.44,"t":"Daily OHLC","k":"txt"},
      {"i":229.3,"p":2014.44,"t":"Open: 1987.75","k":"txt"},
      {"i":242.6,"p":2014.44,"t":"High: 2008.75","k":"hi"},
      {"i":255.4,"p":2014.44,"t":"Low: 1971.00","k":"lo"},
      {"i":267.6,"p":2014.44,"t":"Close","k":"cl"},
      {"i":273.3,"p":2014.44,"t":"Buy","k":"hi"},
      {"i":288.6,"p":2014.44,"t":"Sell","k":"lo"},
      {"i":-0.17,"p":2014.18,"t":"DPL: 0.00C","k":"sim"},
      {"i":-0.83,"p":1998.55,"t":"www.sierrachart.com","k":"web"}
    ],
    "tags": [
      {"i":282.6,"p":2012.76,"t":"2012.75","k":"dark"},
      {"i":282.6,"p":2006.49,"t":"2006.50","k":"dark"},
      {"i":21.08,"p":1998.24,"t":"10-9","k":"dark"},
      {"i":56,"p":1998.24,"t":"2015-10-09  07:56:07","k":"dark"},
      {"i":291,"p":1998.24,"t":"5 L","k":"light"}
    ]
  },
  "resolve": {"scale": {"color": "independent"}},
  "layer": [
    {
      "data": {"values": [{}]},
      "mark": {"type": "rule", "color": "#4a4a4a", "strokeDash": [1, 3]},
      "encoding": {"x": {"datum": 20.67, "type": "quantitative", "title": null}}
    },
    {
      "data": {"name": "levels"},
      "mark": {"type": "rule", "strokeWidth": 1, "strokeDash": [18, 6]},
      "encoding": {
        "x": {"field": "i", "type": "quantitative", "title": null},
        "x2": {"field": "i2"},
        "y": {"field": "p", "type": "quantitative", "title": null},
        "color": {"field": "k", "type": "nominal", "legend": null,
          "scale": {"domain": ["High", "Close"], "range": ["#138a13", "#5b20a8"]}}
      }
    },
    {
      "data": {"values": [{}]},
      "mark": {"type": "rule", "color": "#7a7a7a", "strokeWidth": 1},
      "encoding": {"x": {"datum": 56.06, "type": "quantitative", "title": null}}
    },
    {
      "data": {"values": [{}]},
      "mark": {"type": "rule", "color": "#8a8a8a", "strokeWidth": 1},
      "encoding": {"y": {"datum": 2012.75, "type": "quantitative", "title": null}}
    },
    {
      "data": {"name": "bars"},
      "mark": {"type": "rule", "color": "#8c8c8c", "strokeWidth": 1},
      "encoding": {
        "x": {
          "field": "i", "type": "quantitative", "title": null,
          "scale": {"domain": [-1, 272.5], "nice": false, "zero": false},
          "axis": {
            "orient": "bottom", "grid": false, "domain": false, "ticks": false, "tickSize": 0,
            "labelPadding": 17, "labelBaseline": "middle", "labelColor": "#a9a9a9", "labelFontSize": 11.5,
            "labelOverlap": false, "labelFlush": false,
            "values": [1, 8, 28, 35, 43, 67, 75, 83, 91, 99, 107, 115, 123, 131, 139, 147, 155, 165, 174, 183, 192, 201, 210, 219, 228, 237, 246, 255, 263],
            "labelExpr": "['58:11','15:08','2:28','4:04:37','6:21:33','8:32:14','8:39:29','8:46:49','8:55:49','9:04:40','9:11:38','9:22:02','9:33:26','9:43:29','9:57:32','10:10:20','10:26:33','10:44:21','11:07:55','11:30:23','11:57:04','12:17:22','12:51:22','13:24:23','13:52:31','14:21:50','14:42:53','14:58','15:12:35'][indexof([1,8,28,35,43,67,75,83,91,99,107,115,123,131,139,147,155,165,174,183,192,201,210,219,228,237,246,255,263], datum.value)]"
          }
        },
        "y": {
          "field": "l", "type": "quantitative", "title": null,
          "scale": {"domain": [1998.55, 2015.1], "nice": false, "zero": false},
          "axis": {
            "orient": "right", "grid": true, "gridColor": "#3c3c3c", "gridDash": [1, 2],
            "domain": false, "ticks": false, "tickSize": 0,
            "labelPadding": 42, "labelAlign": "left", "labelBaseline": "middle",
            "labelColor": "#a0a0a0", "labelFontSize": 11, "format": ".2f",
            "values": [1999, 2000, 2001, 2002, 2003, 2004, 2005, 2006, 2007, 2008, 2009, 2010, 2011, 2012, 2013, 2014]
          }
        },
        "y2": {"field": "h"}
      }
    },
    {
      "data": {"name": "bars"},
      "transform": [{"filter": "datum.i == 56"}],
      "mark": {"type": "rule", "color": "#ffffff", "strokeWidth": 1},
      "encoding": {
        "x": {"field": "i", "type": "quantitative", "title": null},
        "y": {"field": "l", "type": "quantitative", "title": null},
        "y2": {"field": "h"}
      }
    },
    {
      "data": {"name": "bars"},
      "mark": {"type": "bar", "orient": "vertical", "width": 3.6, "stroke": "#8c8c8c", "strokeWidth": 1},
      "encoding": {
        "x": {"field": "i", "type": "quantitative", "title": null},
        "y": {"field": "o", "type": "quantitative", "title": null},
        "y2": {"field": "c"},
        "fill": {"condition": {"test": "datum.c >= datum.o", "value": "#0b8a0b"}, "value": "#a30000"}
      }
    },
    {
      "data": {"name": "ema"},
      "mark": {"type": "line", "color": "#ff8c00", "strokeWidth": 1.2},
      "encoding": {
        "x": {"field": "i", "type": "quantitative", "title": null},
        "y": {"field": "p", "type": "quantitative", "title": null}
      }
    },
    {
      "data": {"name": "stops"},
      "mark": {"type": "tick", "orient": "horizontal", "size": 6, "thickness": 2.5},
      "encoding": {
        "x": {"field": "i", "type": "quantitative", "title": null},
        "y": {"field": "p", "type": "quantitative", "title": null},
        "color": {"field": "d", "type": "nominal", "legend": null,
          "scale": {"domain": ["u", "d"], "range": ["#1e88f0", "#c80000"]}}
      }
    },
    {
      "data": {"name": "drawn"},
      "transform": [{"filter": "datum.k == 'ch'"}],
      "mark": {"type": "line", "color": "#f00000", "strokeWidth": 1, "clip": true},
      "encoding": {
        "x": {"field": "i", "type": "quantitative", "title": null},
        "y": {"field": "p", "type": "quantitative", "title": null},
        "detail": {"field": "id"}
      }
    },
    {
      "data": {"name": "drawn"},
      "transform": [{"filter": "datum.k == 'cy'"}],
      "mark": {"type": "line", "color": "#22e0e0", "strokeWidth": 1.2, "strokeDash": [1, 2], "clip": true},
      "encoding": {
        "x": {"field": "i", "type": "quantitative", "title": null},
        "y": {"field": "p", "type": "quantitative", "title": null},
        "detail": {"field": "id"}
      }
    },
    {
      "data": {"name": "drawn"},
      "transform": [{"filter": "datum.k == 'zig'"}],
      "mark": {"type": "line", "color": "#ff1010", "strokeWidth": 3},
      "encoding": {
        "x": {"field": "i", "type": "quantitative", "title": null},
        "y": {"field": "p", "type": "quantitative", "title": null},
        "detail": {"field": "id"}
      }
    },
    {
      "data": {"name": "edges"},
      "mark": {"type": "rule", "strokeWidth": 1},
      "encoding": {
        "x": {"field": "i", "type": "quantitative", "title": null},
        "y": {"datum": 2014.57, "type": "quantitative"},
        "y2": {"datum": 1998.43},
        "color": {"field": "k", "type": "nominal", "legend": null,
          "scale": {"domain": ["Buy", "Sell"], "range": ["#0ca00c", "#d00000"]}}
      }
    },
    {
      "data": {"name": "boxes"},
      "mark": {"type": "rect"},
      "encoding": {
        "x": {"field": "i1", "type": "quantitative", "title": null},
        "x2": {"field": "i2"},
        "y": {"field": "p1", "type": "quantitative", "title": null},
        "y2": {"field": "p2"},
        "color": {"field": "k", "type": "nominal", "legend": null,
          "scale": {"domain": ["sim", "grey", "white", "green"], "range": ["#0e6db5", "#a3a3a3", "#ffffff", "#0cb80c"]}}
      }
    },
    {
      "data": {"name": "header"},
      "mark": {"type": "text", "align": "left", "baseline": "middle", "fontSize": 11.2},
      "encoding": {
        "x": {"field": "i", "type": "quantitative", "title": null},
        "y": {"field": "p", "type": "quantitative", "title": null},
        "text": {"field": "t"},
        "color": {"field": "k", "type": "nominal", "legend": null,
          "scale": {
            "domain": ["sim", "txt", "dark", "stop", "hi", "lo", "cl", "web"],
            "range": ["#c6dcf2", "#b0b0b0", "#111111", "#1e88f0", "#16a016", "#e81010", "#5e22b0", "#8c8c8c"]
          }}
      }
    },
    {
      "data": {"name": "tags"},
      "mark": {"type": "text", "align": "center", "baseline": "middle", "fontSize": 11},
      "encoding": {
        "x": {"field": "i", "type": "quantitative", "title": null},
        "y": {"field": "p", "type": "quantitative", "title": null},
        "text": {"field": "t"},
        "color": {"field": "k", "type": "nominal", "legend": null,
          "scale": {"domain": ["dark", "light"], "range": ["#111111", "#dff5df"]}}
      }
    },
    {
      "data": {"values": [{"i": 268.8, "p": 2006.42, "t": "946"}]},
      "mark": {"type": "text", "align": "center", "baseline": "middle", "fontSize": 11.5, "fontWeight": "bold", "color": "#f2f2f2"},
      "encoding": {
        "x": {"field": "i", "type": "quantitative", "title": null},
        "y": {"field": "p", "type": "quantitative", "title": null},
        "text": {"field": "t"}
      }
    }
  ],
  "config": {
    "view": {"stroke": null},
    "font": "Liberation Sans"
  }
}
